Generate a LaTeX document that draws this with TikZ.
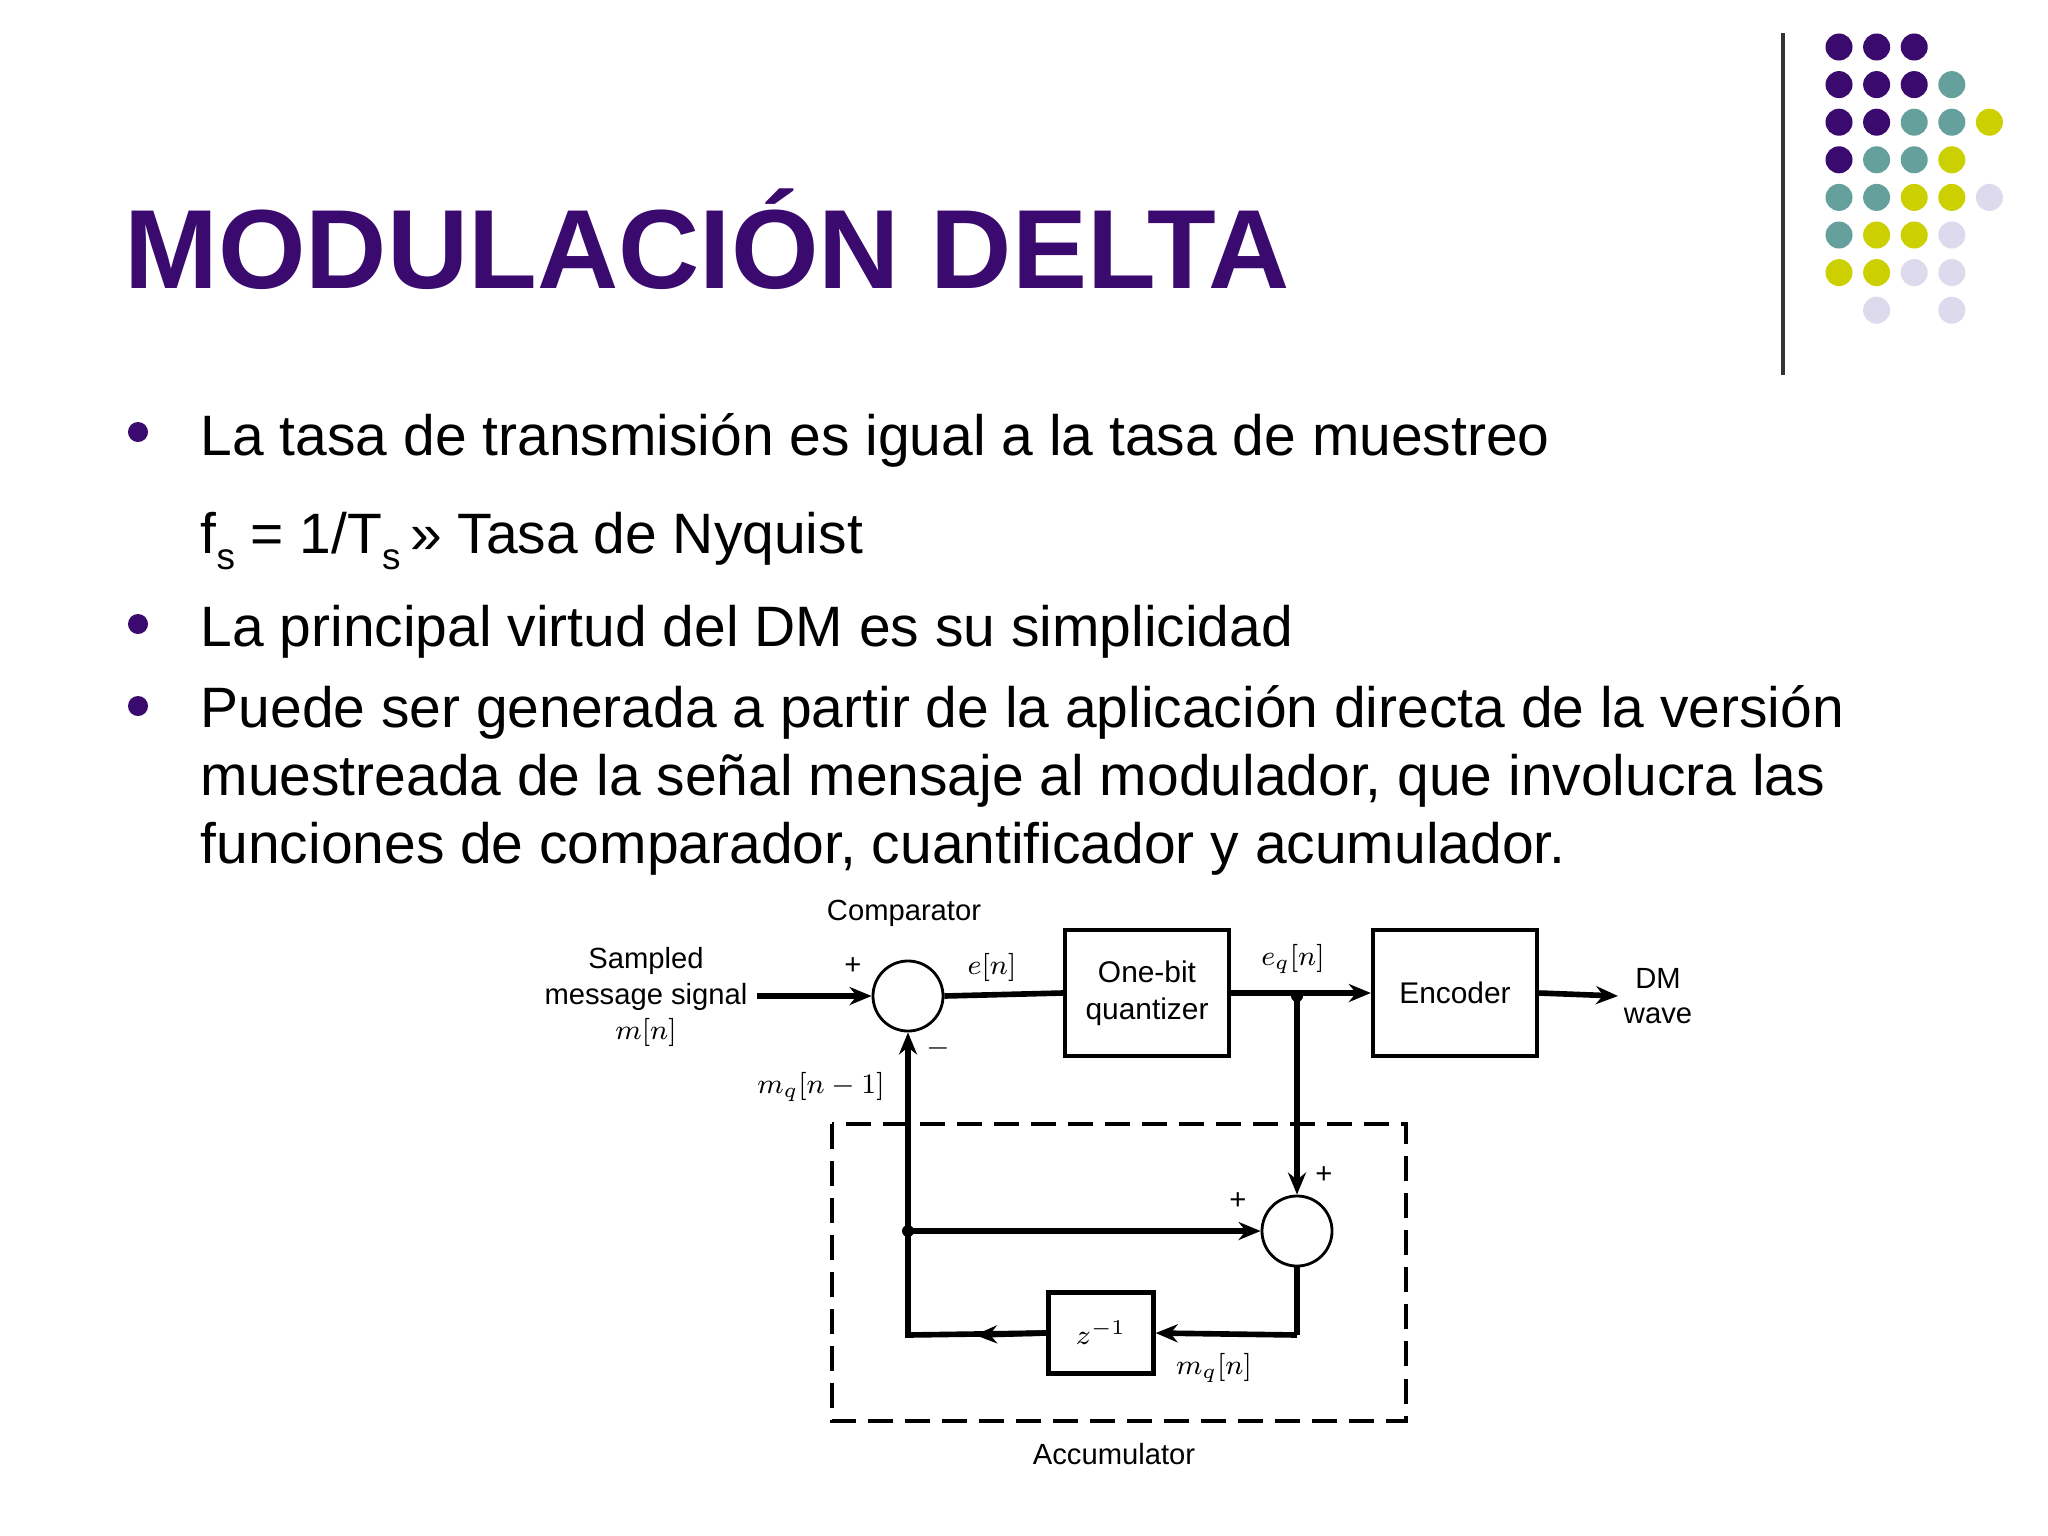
\documentclass[tikz,border=0pt]{standalone}
\usepackage{fontspec}
\setmainfont{Liberation Sans}
\usetikzlibrary{arrows.meta}
\definecolor{pur}{HTML}{3A0A6E}
\definecolor{tea}{HTML}{66A09C}
\definecolor{yel}{HTML}{CDD000}
\definecolor{lav}{HTML}{DCDAEC}
\begin{document}
\begin{tikzpicture}[x=0.01cm,y=-0.01cm,
  dot/.style={circle,inner sep=0pt,minimum size=0.27cm},
  body/.style={anchor=base west,inner sep=0pt,font=\fontsize{16.2}{19}\selectfont},
  lbl/.style={inner sep=0pt,font=\fontsize{8.3}{10}\selectfont,align=center},
  blk/.style={draw,line width=1.2pt,minimum width=1.64cm,minimum height=1.26cm,inner sep=0pt,font=\fontsize{8.5}{10.5}\selectfont,align=center},
  sumc/.style={draw,circle,line width=0.8pt,minimum size=0.70cm,inner sep=0pt},
  sig/.style={line width=1.6pt},
  arr/.style={sig,-{Stealth[length=0.22cm,width=0.18cm]}}]
\useasboundingbox (0,0) rectangle (2048,1536);
\fill[white] (0,0) rectangle (2048,1536);
% decorative dots
\draw[line width=1.3pt,black!80] (1783,33) -- (1783,375);
\foreach \r/\row in {0/{pur,pur,pur},1/{pur,pur,pur,tea},2/{pur,pur,tea,tea,yel},3/{pur,tea,tea,yel},4/{tea,tea,yel,yel,lav},5/{tea,yel,yel,lav},6/{yel,yel,lav,lav},7/{none,lav,none,lav}}{
  \foreach \c [count=\i from 0] in \row {
    \node[dot,fill=\c] (d\r\i) at ({1839+37.6*\i},{47+37.6*\r}) {};
    }}
% title
\node[anchor=base west,inner sep=0pt,text=pur,font=\fontsize{32}{38}\selectfont\bfseries] (title) at (124,288) {MODULACIÓN DELTA};
% bullets
\foreach \y/\n in {432/b1,624/b2,706/b3}{\node[circle,fill=pur,inner sep=0pt,minimum size=0.2cm] (\n) at (138,\y) {};}
\node[body] (t1) at (200,455) {La tasa de transmisión es igual a la tasa de muestreo};
\node[body] (t2) at (200,553) {f\raisebox{-0.55ex}{\fontsize{10.5}{12}\selectfont s} = 1/T\raisebox{-0.55ex}{\fontsize{10.5}{12}\selectfont s}\,» Tasa de Nyquist};
\node[body] (t3) at (200,646) {La principal virtud del DM es su simplicidad};
\node[body] (t4) at (200,727) {Puede ser generada a partir de la aplicación directa de la versión};
\node[body] (t5) at (200,795) {muestreada de la señal mensaje al modulador, que involucra las};
\node[body] (t6) at (200,863) {funciones de comparador, cuantificador y acumulador.};
% diagram
\node[sumc] (cmp) at (908,996) {};
\node[blk] (q) at (1147,993) {One-bit\\quantizer};
\node[blk] (enc) at (1455,993) {Encoder};
\node[sumc] (sum) at (1297,1231) {};
\node[blk,minimum width=1.05cm,minimum height=0.81cm] (z) at (1101,1333) {$z^{-1}$};
\coordinate (in) at (757,996);
\coordinate (out) at (1618,996);
\coordinate (j1) at (1297,996);
\coordinate (j2) at (908,1231);
\coordinate (c1) at (1297,1335);
\coordinate (c2) at (908,1335);
\coordinate (am) at (975,1335);
\node[lbl] (sms) at (646,997) {Sampled\\message signal\\$m[n]$};
\node[lbl] (cl) at (904,913) {Comparator};
\node[lbl] (p1) at (853,966) {+};
\node[lbl] (m1) at (938,1048) {$-$};
\node[lbl] (en) at (992,967) {$e[n]$};
\node[lbl] (eq) at (1293,959) {$e_q[n]$};
\node[lbl] (dm) at (1658,996) {DM\\wave};
\node[lbl] (p2) at (1324,1175) {+};
\node[lbl] (p3) at (1238,1201) {+};
\node[lbl] (mqn) at (1214,1368) {$m_q[n]$};
\node[lbl] (mq1) at (821,1087) {$m_q[n-1]$};
\node[lbl] (acc) at (1114,1454) {Accumulator};
\draw[dash pattern=on 0.25cm off 0.12cm,line width=0.9pt] (832,1124) rectangle (1406,1421);
\draw[arr] (in) -- (cmp.west);
\draw[sig] (cmp.east) -- (q.west);
\draw[arr] (q.east) -- (enc.west);
\draw[arr] (enc.east) -- (out);
\draw[arr] (j1) -- (sum.north);
\fill (j1) circle (0.06cm);
\fill (j2) circle (0.06cm);
\draw[arr] (j2) -- (sum.west);
\draw[sig] (sum.south) -- (c1);
\draw[arr] (c1) -- (z.east);
\draw[sig] (z.west) -- (c2) -- (j2);
\draw[arr] (z.west) -- (am);
\draw[arr] (j2) -- (cmp.south);
\end{tikzpicture}
\end{document}
